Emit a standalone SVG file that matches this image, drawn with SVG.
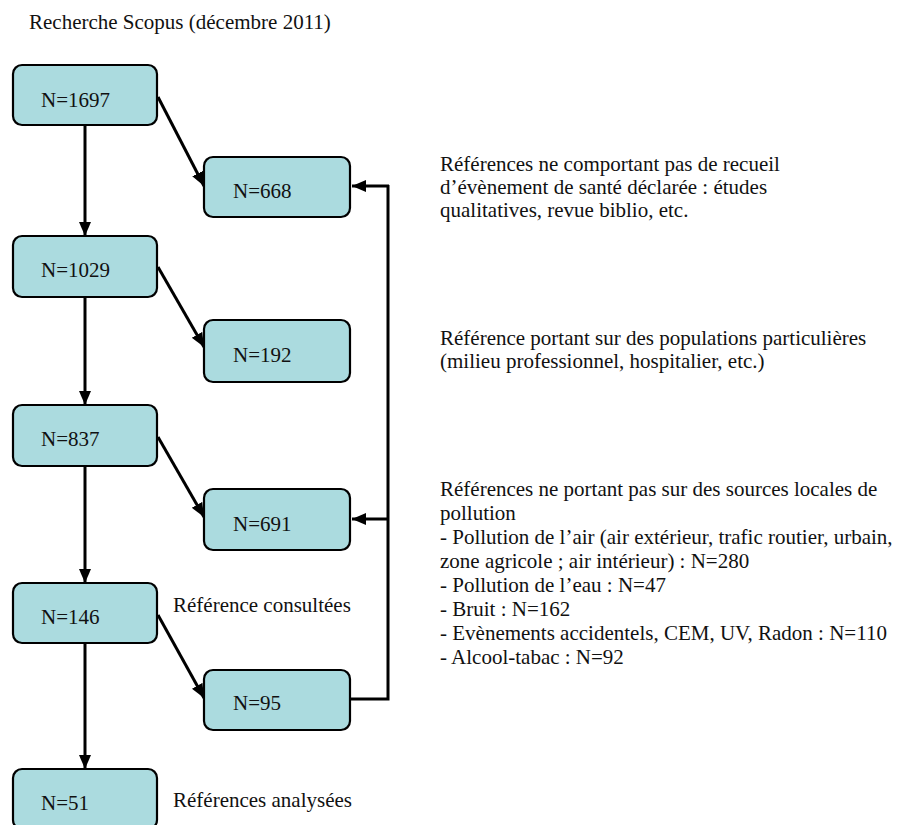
<svg xmlns="http://www.w3.org/2000/svg" width="902" height="825" viewBox="0 0 902 825">
<defs>
<style>
.box{fill:#ABDBDF;stroke:#000;stroke-width:2.2}
text{font-family:"Liberation Serif","Times New Roman",serif;font-size:21px;fill:#111}
.c{fill:none;stroke:#000;stroke-width:3}
</style>
<marker id="ah" markerUnits="userSpaceOnUse" markerWidth="16" markerHeight="14" refX="14" refY="6" orient="auto">
<path d="M0,0 L14,6 L0,12 z" fill="#000"/>
</marker>
</defs>
<rect width="902" height="825" fill="#fff"/>
<text x="29" y="29">Recherche Scopus (décembre 2011)</text>
<g id="connectors">
<line class="c" x1="85" y1="125" x2="85" y2="236" marker-end="url(#ah)"/>
<line class="c" x1="85" y1="297" x2="85" y2="405" marker-end="url(#ah)"/>
<line class="c" x1="85" y1="466" x2="85" y2="583" marker-end="url(#ah)"/>
<line class="c" x1="85" y1="643" x2="85" y2="769" marker-end="url(#ah)"/>
<line class="c" x1="158" y1="97" x2="204" y2="186" marker-end="url(#ah)"/>
<line class="c" x1="158" y1="267" x2="204" y2="347" marker-end="url(#ah)"/>
<line class="c" x1="158" y1="437" x2="204" y2="517" marker-end="url(#ah)"/>
<line class="c" x1="158" y1="615" x2="204" y2="698" marker-end="url(#ah)"/>
<polyline class="c" points="351,699 388,699 388,185"/>
<line class="c" x1="389" y1="186" x2="352" y2="186" stroke-width="2" marker-end="url(#ah)"/>
<line class="c" x1="389" y1="519" x2="352" y2="519" stroke-width="2" marker-end="url(#ah)"/>
</g>
<g id="n1697"><rect class="box" x="13" y="65" width="144" height="60" rx="9"/><text x="41" y="107">N=1697</text></g>
<g id="n668"><rect class="box" x="204" y="157" width="146" height="60" rx="9"/><text x="233" y="198">N=668</text></g>
<g id="n1029"><rect class="box" x="13" y="236" width="144" height="61" rx="9"/><text x="41" y="277">N=1029</text></g>
<g id="n192"><rect class="box" x="204" y="320" width="146" height="62" rx="9"/><text x="233" y="362">N=192</text></g>
<g id="n837"><rect class="box" x="13" y="405" width="144" height="61" rx="9"/><text x="41" y="446">N=837</text></g>
<g id="n691"><rect class="box" x="204" y="489" width="146" height="61" rx="9"/><text x="233" y="531">N=691</text></g>
<g id="n146"><rect class="box" x="13" y="583" width="144" height="60" rx="9"/><text x="41" y="624">N=146</text></g>
<g id="n95"><rect class="box" x="204" y="670" width="146" height="60" rx="9"/><text x="233" y="710">N=95</text></g>
<g id="n51"><rect class="box" x="13" y="769" width="144" height="60" rx="9"/><text x="41" y="810">N=51</text></g>
<g id="labels">
<text x="173" y="612">Référence consultées</text>
<text x="173" y="807">Références analysées</text>
<text x="440" y="171">Références ne comportant pas de recueil</text>
<text x="440" y="194">d’évènement de santé déclarée : études</text>
<text x="440" y="217">qualitatives, revue biblio, etc.</text>
<text x="440" y="345">Référence portant sur des populations particulières</text>
<text x="440" y="368">(milieu professionnel, hospitalier, etc.)</text>
<text x="440" y="496">Références ne portant pas sur des sources locales de</text>
<text x="440" y="520">pollution</text>
<text x="440" y="544">- Pollution de l’air (air extérieur, trafic routier, urbain,</text>
<text x="440" y="568">zone agricole ; air intérieur) : N=280</text>
<text x="440" y="592">- Pollution de l’eau : N=47</text>
<text x="440" y="616">- Bruit : N=162</text>
<text x="440" y="640">- Evènements accidentels, CEM, UV, Radon : N=110</text>
<text x="440" y="664">- Alcool-tabac : N=92</text>
</g>
</svg>
